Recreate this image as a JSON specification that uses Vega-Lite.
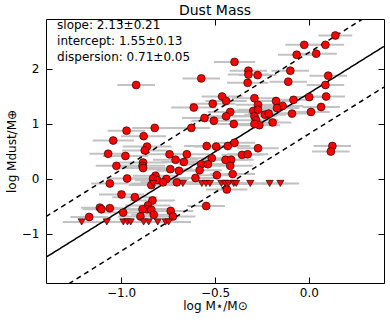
{
  "$schema": "https://vega.github.io/schema/vega-lite/v6.json",
  "width": 338,
  "height": 264,
  "autosize": {"type": "none"},
  "padding": {"left": 46, "top": 19, "right": 6, "bottom": 40},
  "background": "white",
  "title": {"text": "Dust Mass", "font": "DejaVu Sans", "fontSize": 14, "fontWeight": "normal", "color": "black", "offset": 1},
  "config": {
    "view": {"stroke": "black", "strokeWidth": 1},
    "font": "DejaVu Sans",
    "axis": {"grid": false, "domain": false, "tickColor": "black", "tickWidth": 1, "tickSize": -6, "labelFont": "DejaVu Sans", "labelFontSize": 12, "labelColor": "black", "titleFont": "DejaVu Sans", "titleFontSize": 12, "titleFontWeight": "normal", "titleColor": "black"}
  },
  "datasets": {
    "pts": [
      {"x":0.141,"y":2.60,"e":0.09,"t":"d"},{"x":-0.025,"y":2.43,"e":0.10,"t":"d"},{"x":0.088,"y":2.43,"e":0.10,"t":"d"},{"x":-0.065,"y":2.25,"e":0.10,"t":"d"},{"x":0.039,"y":2.27,"e":0.11,"t":"d"},
      {"x":-0.396,"y":2.12,"e":0.11,"t":"d"},{"x":-0.322,"y":1.96,"e":0.10,"t":"d"},{"x":-0.322,"y":1.89,"e":0.11,"t":"d"},{"x":-0.273,"y":1.88,"e":0.10,"t":"d"},{"x":-0.573,"y":1.82,"e":0.10,"t":"d"},
      {"x":-0.920,"y":1.70,"e":0.10,"t":"d"},{"x":-0.099,"y":1.96,"e":0.10,"t":"d"},{"x":-0.326,"y":1.74,"e":0.11,"t":"d"},{"x":-0.110,"y":1.76,"e":0.10,"t":"d"},{"x":0.103,"y":1.87,"e":0.10,"t":"d"},
      {"x":0.088,"y":1.70,"e":0.10,"t":"d"},{"x":-0.462,"y":1.49,"e":0.11,"t":"d"},{"x":-0.512,"y":1.36,"e":0.12,"t":"d"},{"x":-0.441,"y":1.41,"e":0.11,"t":"d"},{"x":-0.290,"y":1.46,"e":0.12,"t":"d"},
      {"x":-0.175,"y":1.41,"e":0.10,"t":"d"},{"x":0.002,"y":1.48,"e":0.10,"t":"d"},{"x":0.092,"y":1.49,"e":0.10,"t":"d"},{"x":-0.082,"y":1.43,"e":0.10,"t":"d"},{"x":-0.613,"y":1.29,"e":0.12,"t":"d"},
      {"x":-0.271,"y":1.34,"e":0.12,"t":"d"},{"x":-0.296,"y":1.23,"e":0.12,"t":"d"},{"x":-0.271,"y":1.25,"e":0.11,"t":"d"},{"x":-0.140,"y":1.32,"e":0.11,"t":"d"},{"x":-0.170,"y":1.28,"e":0.12,"t":"d"},
      {"x":0.065,"y":1.30,"e":0.10,"t":"d"},{"x":0.011,"y":1.21,"e":0.10,"t":"d"},{"x":-0.090,"y":1.18,"e":0.10,"t":"d"},{"x":-0.419,"y":1.21,"e":0.12,"t":"d"},{"x":-0.441,"y":1.13,"e":0.11,"t":"d"},
      {"x":-0.556,"y":1.10,"e":0.12,"t":"d"},{"x":-0.506,"y":1.05,"e":0.12,"t":"d"},{"x":-0.290,"y":1.13,"e":0.12,"t":"d"},{"x":-0.234,"y":1.16,"e":0.11,"t":"d"},{"x":-0.214,"y":1.18,"e":0.11,"t":"d"},
      {"x":-0.281,"y":1.06,"e":0.12,"t":"d"},{"x":-0.264,"y":0.97,"e":0.11,"t":"d"},{"x":-0.290,"y":0.99,"e":0.12,"t":"d"},{"x":-0.193,"y":1.02,"e":0.10,"t":"d"},{"x":-0.400,"y":0.99,"e":0.12,"t":"d"},
      {"x":-0.626,"y":0.92,"e":0.10,"t":"d"},{"x":-0.821,"y":0.92,"e":0.12,"t":"d"},{"x":-0.971,"y":0.87,"e":0.10,"t":"d"},{"x":-0.880,"y":0.77,"e":0.12,"t":"d"},{"x":-1.042,"y":0.69,"e":0.11,"t":"d"},
      {"x":-0.862,"y":0.58,"e":0.13,"t":"d"},{"x":-0.874,"y":0.51,"e":0.12,"t":"d"},{"x":-1.069,"y":0.45,"e":0.10,"t":"d"},{"x":-0.977,"y":0.41,"e":0.12,"t":"d"},{"x":-0.883,"y":0.29,"e":0.13,"t":"d"},
      {"x":-0.886,"y":0.23,"e":0.12,"t":"d"},{"x":-0.883,"y":0.19,"e":0.12,"t":"d"},{"x":-1.025,"y":0.23,"e":0.11,"t":"d"},{"x":-0.544,"y":0.59,"e":0.12,"t":"d"},{"x":-0.494,"y":0.58,"e":0.12,"t":"d"},
      {"x":-0.432,"y":0.59,"e":0.12,"t":"d"},{"x":-0.396,"y":0.65,"e":0.11,"t":"d"},{"x":-0.742,"y":0.44,"e":0.12,"t":"d"},{"x":-0.650,"y":0.44,"e":0.12,"t":"d"},{"x":-0.517,"y":0.37,"e":0.12,"t":"d"},
      {"x":-0.573,"y":0.26,"e":0.12,"t":"d"},{"x":-0.538,"y":0.26,"e":0.12,"t":"d"},{"x":-0.710,"y":0.34,"e":0.12,"t":"d"},{"x":-0.666,"y":0.30,"e":0.12,"t":"d"},{"x":-0.444,"y":0.34,"e":0.12,"t":"d"},
      {"x":-0.414,"y":0.34,"e":0.12,"t":"d"},{"x":-0.419,"y":0.23,"e":0.12,"t":"d"},{"x":-0.356,"y":0.43,"e":0.11,"t":"d"},{"x":-0.326,"y":0.44,"e":0.11,"t":"d"},{"x":-0.271,"y":0.55,"e":0.11,"t":"d"},
      {"x":0.125,"y":0.59,"e":0.10,"t":"d"},{"x":0.117,"y":0.49,"e":0.10,"t":"d"},{"x":-0.738,"y":0.17,"e":0.12,"t":"d"},{"x":-0.692,"y":0.14,"e":0.12,"t":"d"},{"x":-0.582,"y":0.15,"e":0.12,"t":"d"},
      {"x":-0.490,"y":0.06,"e":0.12,"t":"d"},{"x":-0.406,"y":0.08,"e":0.12,"t":"d"},{"x":-0.604,"y":0.01,"e":0.12,"t":"d"},{"x":-0.968,"y":0.00,"e":0.11,"t":"d"},{"x":-0.817,"y":0.05,"e":0.12,"t":"d"},
      {"x":-0.830,"y":0.00,"e":0.12,"t":"d"},{"x":-0.807,"y":-0.03,"e":0.12,"t":"d"},{"x":-0.759,"y":-0.01,"e":0.12,"t":"d"},{"x":-0.777,"y":-0.07,"e":0.12,"t":"d"},{"x":-0.703,"y":-0.07,"e":0.12,"t":"d"},
      {"x":-1.060,"y":-0.09,"e":0.10,"t":"d"},{"x":-0.839,"y":-0.12,"e":0.12,"t":"d"},{"x":-0.437,"y":-0.20,"e":0.11,"t":"d"},{"x":-0.998,"y":-0.29,"e":0.12,"t":"d"},{"x":-0.927,"y":-0.34,"e":0.12,"t":"d"},
      {"x":-0.833,"y":-0.40,"e":0.12,"t":"d"},{"x":-0.857,"y":-0.49,"e":0.12,"t":"d"},{"x":-0.862,"y":-0.56,"e":0.12,"t":"d"},{"x":-0.839,"y":-0.57,"e":0.12,"t":"d"},{"x":-0.886,"y":-0.56,"e":0.12,"t":"d"},
      {"x":-1.113,"y":-0.53,"e":0.10,"t":"d"},{"x":-1.105,"y":-0.56,"e":0.10,"t":"d"},{"x":-1.060,"y":-0.54,"e":0.11,"t":"d"},{"x":-0.989,"y":-0.62,"e":0.12,"t":"d"},{"x":-0.826,"y":-0.66,"e":0.12,"t":"d"},
      {"x":-0.736,"y":-0.59,"e":0.12,"t":"d"},{"x":-0.724,"y":-0.69,"e":0.12,"t":"d"},{"x":-0.897,"y":-0.69,"e":0.12,"t":"d"},{"x":-1.170,"y":-0.70,"e":0.10,"t":"d"},{"x":-0.547,"y":-0.50,"e":0.10,"t":"d"},
      {"x":-0.671,"y":-0.09,"e":0.11,"t":"u"},{"x":-0.570,"y":-0.09,"e":0.11,"t":"u"},{"x":-0.548,"y":-0.09,"e":0.11,"t":"u"},{"x":-0.527,"y":-0.09,"e":0.11,"t":"u"},{"x":-0.466,"y":-0.09,"e":0.11,"t":"u"},
      {"x":-0.446,"y":-0.09,"e":0.11,"t":"u"},{"x":-0.428,"y":-0.09,"e":0.11,"t":"u"},{"x":-0.400,"y":-0.09,"e":0.11,"t":"u"},{"x":-0.387,"y":-0.09,"e":0.11,"t":"u"},{"x":-0.312,"y":-0.09,"e":0.11,"t":"u"},
      {"x":-0.209,"y":-0.09,"e":0.10,"t":"u"},{"x":-0.152,"y":-0.09,"e":0.10,"t":"u"},{"x":-0.830,"y":-0.09,"e":0.12,"t":"u"},
      {"x":-1.210,"y":-0.79,"e":0.10,"t":"u"},{"x":-1.076,"y":-0.79,"e":0.11,"t":"u"},{"x":-0.988,"y":-0.79,"e":0.12,"t":"u"},{"x":-0.966,"y":-0.79,"e":0.12,"t":"u"},{"x":-0.949,"y":-0.79,"e":0.12,"t":"u"},
      {"x":-0.880,"y":-0.79,"e":0.12,"t":"u"},{"x":-0.853,"y":-0.79,"e":0.12,"t":"u"},{"x":-0.805,"y":-0.79,"e":0.12,"t":"u"},{"x":-0.763,"y":-0.79,"e":0.12,"t":"u"},{"x":-0.747,"y":-0.79,"e":0.12,"t":"u"}
    ],
    "fit": [
      {"x":-1.4,"y":-1.432,"s":"fit"},{"x":0.4,"y":2.402,"s":"fit"},
      {"x":-1.4,"y":-0.692,"s":"up"},{"x":0.4,"y":3.142,"s":"up"},
      {"x":-1.4,"y":-2.172,"s":"lo"},{"x":0.4,"y":1.662,"s":"lo"}
    ],
    "ann": [
      {"label":"slope: 2.13±0.21\nintercept: 1.55±0.13\ndispersion: 0.71±0.05"}
    ]
  },
  "resolve": {"axis": {"x": "independent", "y": "independent"}},
  "layer": [
    {
      "data": {"name": "pts"},
      "mark": {"type": "errorbar", "ticks": false, "color": "#c2c2c2", "thickness": 2},
      "encoding": {
        "x": {"field": "x", "type": "quantitative", "scale": {"domain": [-1.4, 0.4], "nice": false, "zero": false},
              "axis": {"orient": "bottom", "values": [-1, -0.5, 0], "format": ".1f", "labelPadding": 10, "title": "log M⋆/M⊙", "titlePadding": 2}},
        "xError": {"field": "e"},
        "y": {"field": "y", "type": "quantitative", "scale": {"domain": [-1.9, 2.9], "nice": false, "zero": false},
              "axis": {"orient": "left", "values": [-1, 0, 1, 2], "format": "d", "labelPadding": 13, "title": "log Mdust/M⊕", "titlePadding": 3}}
      }
    },
    {
      "data": {"name": "fit"},
      "mark": {"type": "line", "color": "black", "strokeWidth": 1.5, "clip": true},
      "encoding": {
        "x": {"field": "x", "type": "quantitative", "scale": {"domain": [-1.4, 0.4], "nice": false, "zero": false}, "axis": null},
        "y": {"field": "y", "type": "quantitative", "scale": {"domain": [-1.9, 2.9], "nice": false, "zero": false}, "axis": null},
        "detail": {"field": "s"},
        "strokeDash": {"field": "s", "type": "nominal", "scale": {"domain": ["fit", "up", "lo"], "range": [[1, 0], [5, 4], [5, 4]]}, "legend": null}
      }
    },
    {
      "data": {"name": "pts"},
      "mark": {"type": "point", "filled": true, "fill": "#ff0000", "stroke": "black", "strokeWidth": 0.6, "opacity": 1},
      "encoding": {
        "x": {"field": "x", "type": "quantitative", "scale": {"domain": [-1.4, 0.4], "nice": false, "zero": false},
              "axis": {"orient": "top", "values": [-1, -0.5, 0], "labels": false, "title": null}},
        "y": {"field": "y", "type": "quantitative", "scale": {"domain": [-1.9, 2.9], "nice": false, "zero": false},
              "axis": {"orient": "right", "values": [-1, 0, 1, 2], "labels": false, "title": null}},
        "shape": {"field": "t", "type": "nominal", "scale": {"domain": ["d", "u"], "range": ["circle", "triangle-down"]}, "legend": null},
        "size": {"field": "t", "type": "nominal", "scale": {"domain": ["d", "u"], "range": [62, 52]}, "legend": null}
      }
    },
    {
      "data": {"name": "ann"},
      "mark": {"type": "text", "align": "left", "baseline": "top", "lineBreak": "\n", "lineHeight": 16.3, "font": "DejaVu Sans", "fontSize": 12, "color": "black"},
      "encoding": {
        "x": {"datum": -1.341, "type": "quantitative", "scale": {"domain": [-1.4, 0.4], "nice": false, "zero": false}, "axis": null},
        "y": {"datum": 2.89, "type": "quantitative", "scale": {"domain": [-1.9, 2.9], "nice": false, "zero": false}, "axis": null},
        "text": {"field": "label"}
      }
    }
  ]
}
